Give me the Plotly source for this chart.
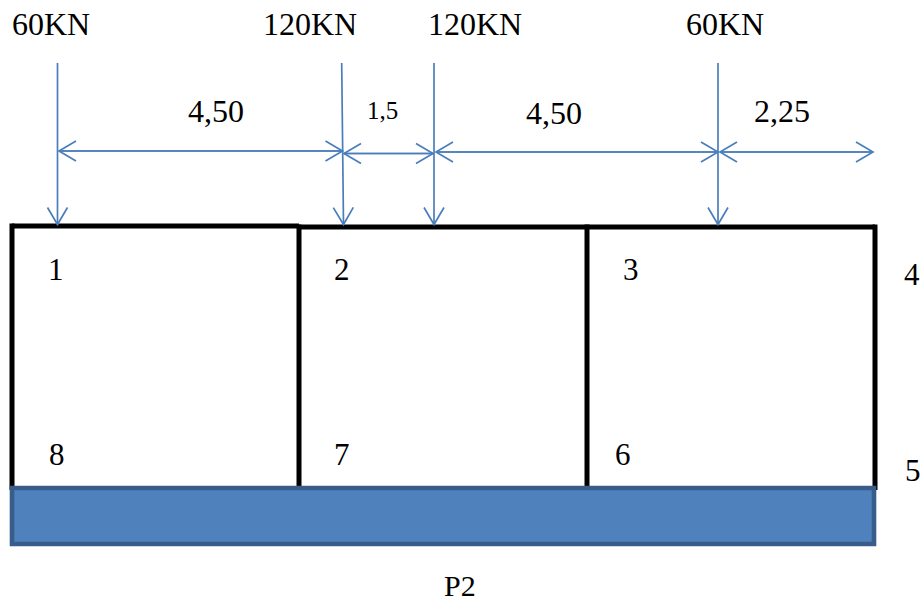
import plotly.graph_objects as go

# Diagram geometry (image-pixel units)
frame_x = [12, 299, 587, 875]
frame_top_first = 226
frame_top_rest = 227
frame_bottom = 490
slab_x = [12, 874]
slab_y = [488, 544]
load_labels = ["60KN", "120KN", "120KN", "60KN"]
label_x = [50.5, 309.5, 474.5, 724.5]
load_x0 = [57.5, 341.7, 434, 718]
load_x1 = [57.5, 343.5, 434, 718]
load_y0 = [63, 63, 63, 63]
load_y1 = [224.5, 224.5, 224.5, 224.5]
dim_x0 = [59, 344, 436, 720]
dim_x1 = [342.5, 433, 718, 873]
dim_y = [151, 153.5, 152, 152]
dim_labels = ["4,50", "1,5", "4,50", "2,25"]
dim_label_x = [215.5, 382.5, 554, 781.5]
dim_label_y = [111, 110, 113, 111]
dim_sizes = [32, 25, 32, 32]
node_labels = ["1", "2", "3", "8", "7", "6", "4", "5"]
node_x = [56, 342, 631, 57, 342, 623, 912, 913]
node_y = [269, 269, 269, 454, 454, 454, 274, 470]
caption = "P2"
caption_x, caption_y = 460, 585
ARROW = "#4A7EBB"
HEAD_LEN, HEAD_HALF = 17, 10
FONT = "Liberation Serif"

fig = go.Figure()

# frame
black = dict(color="black", width=5)
fig.add_trace(go.Scatter(x=[frame_x[0], frame_x[1]], y=[frame_top_first, frame_top_first], mode="lines", line=black))
fig.add_trace(go.Scatter(x=[frame_x[1], frame_x[3]], y=[frame_top_rest, frame_top_rest], mode="lines", line=black))
for i, x in enumerate(frame_x):
    t = frame_top_first if i == 0 else frame_top_rest
    fig.add_trace(go.Scatter(x=[x, x], y=[t - 2.5, frame_bottom], mode="lines", line=black))

# slab
fig.add_shape(type="rect", x0=slab_x[0], x1=slab_x[1], y0=slab_y[0], y1=slab_y[1],
              fillcolor="#4F81BD", line=dict(color="#385D8A", width=4.6))

# arrows: shafts plus open heads, all in one polyline trace
ax, ay = [], []
def arrow(x0, y0, x1, y1):
    dx, dy = x1 - x0, y1 - y0
    n = (dx * dx + dy * dy) ** 0.5
    ux, uy = dx / n, dy / n
    ax.extend([x0, x1, None])
    ay.extend([y0, y1, None])
    bx, by = x1 - ux * HEAD_LEN, y1 - uy * HEAD_LEN
    ax.extend([bx - uy * HEAD_HALF, x1, bx + uy * HEAD_HALF, None])
    ay.extend([by + ux * HEAD_HALF, y1, by - ux * HEAD_HALF, None])

for a, b, c, d in zip(load_x0, load_y0, load_x1, load_y1):
    arrow(a, b, c, d)
for a, b, y in zip(dim_x0, dim_x1, dim_y):
    arrow(a, y, b, y)
    arrow(b, y, a, y)
fig.add_trace(go.Scatter(x=ax, y=ay, mode="lines", line=dict(color=ARROW, width=1.7), connectgaps=False))

for t, x in zip(load_labels, label_x):
    fig.add_annotation(x=x, y=24, text=t, showarrow=False, font=dict(family=FONT, size=32, color="black"))
for t, x, y, s in zip(dim_labels, dim_label_x, dim_label_y, dim_sizes):
    fig.add_annotation(x=x, y=y, text=t, showarrow=False, font=dict(family=FONT, size=s, color="black"))
for t, x, y in zip(node_labels, node_x, node_y):
    fig.add_annotation(x=x, y=y, text=t, showarrow=False, font=dict(family=FONT, size=31, color="black"))
fig.add_annotation(x=caption_x, y=caption_y, text=caption, showarrow=False,
                   font=dict(family=FONT, size=30, color="black"))

fig.update_traces(hoverinfo="skip", showlegend=False)
fig.update_xaxes(range=[0, 924], visible=False, fixedrange=True)
fig.update_yaxes(range=[603, 0], visible=False, fixedrange=True)
fig.update_layout(width=924, height=603, margin=dict(l=0, r=0, t=0, b=0),
                  paper_bgcolor="white", plot_bgcolor="white", showlegend=False)
fig.write_html("out.html", config=dict(displayModeBar=False),
               post_script="document.body.style.margin='0';document.documentElement.style.overflow='hidden';")
